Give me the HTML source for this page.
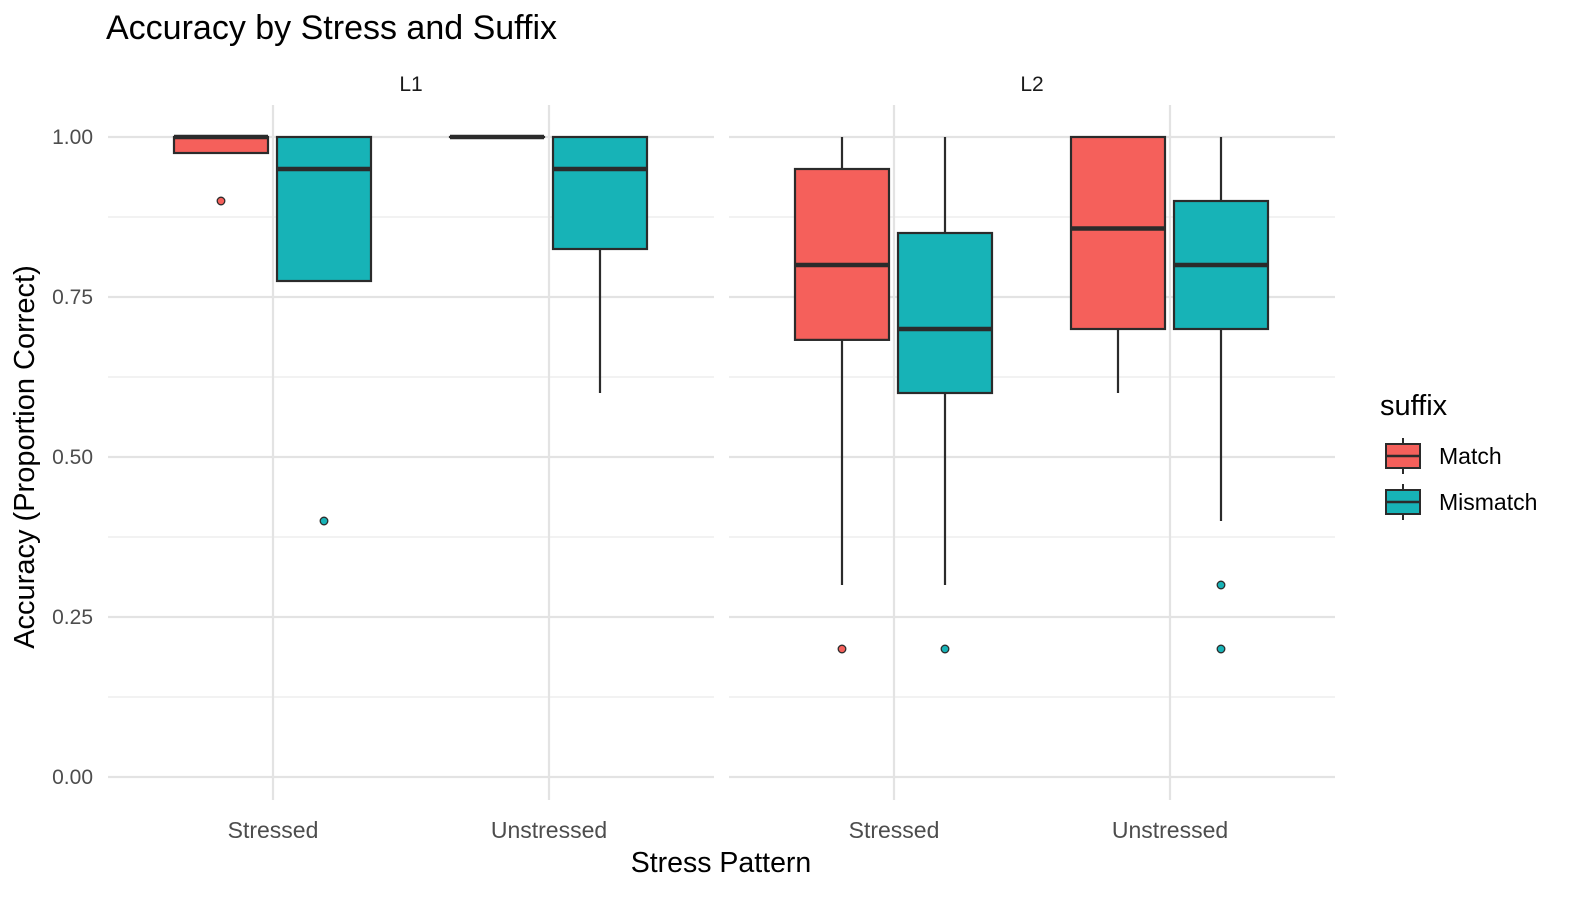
<!DOCTYPE html>
<html><head><meta charset="utf-8"><style>
body{margin:0;background:#fff;}
svg text{font-family:"Liberation Sans",Arial,sans-serif;}
</style></head><body>
<svg id="chart" width="1586" height="902" xmlns="http://www.w3.org/2000/svg">
<text x="106" y="39" font-size="34" fill="#000">Accuracy by Stress and Suffix</text>
<g id="panels"></g>
<text x="721" y="872" font-size="28.5" text-anchor="middle" fill="#000">Stress Pattern</text>
<text transform="translate(34,457) rotate(-90)" font-size="29" text-anchor="middle" fill="#000">Accuracy (Proportion Correct)</text>
<g>
<text x="1380" y="415" font-size="29" fill="#000">suffix</text>
<g>
<line x1="1403" y1="438" x2="1403" y2="474" stroke="#2b2b2b" stroke-width="2"/>
<rect x="1386" y="444" width="34" height="24" fill="#F5605B" stroke="#2b2b2b" stroke-width="2"/>
<line x1="1386" y1="456" x2="1420" y2="456" stroke="#2b2b2b" stroke-width="2.5"/>
<text x="1439" y="464" font-size="23" fill="#000">Match</text></g>
<g>
<line x1="1403" y1="484" x2="1403" y2="520" stroke="#2b2b2b" stroke-width="2"/>
<rect x="1386" y="490" width="34" height="24" fill="#17B3B7" stroke="#2b2b2b" stroke-width="2"/>
<line x1="1386" y1="502" x2="1420" y2="502" stroke="#2b2b2b" stroke-width="2.5"/>
<text x="1439" y="510" font-size="23" fill="#000">Mismatch</text></g>
</g>
</svg>
<script>
const panels=["L1","L2"];
const categories=["Stressed","Unstressed"];
const series=["Match","Mismatch"];
const yTicks=[0,0.25,0.5,0.75,1.0];
const yTickLabels=["0.00","0.25","0.50","0.75","1.00"];
// [category] = [lowWhisker, q1, median, q3, highWhisker]
const boxL1Match=[[1.0,0.975,1.0,1.0,1.0],[1.0,1.0,1.0,1.0,1.0]];
const boxL1Mismatch=[[0.775,0.775,0.95,1.0,1.0],[0.6,0.825,0.95,1.0,1.0]];
const boxL2Match=[[0.3,0.683,0.8,0.95,1.0],[0.6,0.7,0.857,1.0,1.0]];
const boxL2Mismatch=[[0.3,0.6,0.7,0.85,1.0],[0.4,0.7,0.8,0.9,1.0]];
const outL1Match=[[0.9],[]];
const outL1Mismatch=[[0.4],[]];
const outL2Match=[[0.2],[]];
const outL2Mismatch=[[0.2],[0.3,0.2]];
const boxes={L1:[boxL1Match,boxL1Mismatch],L2:[boxL2Match,boxL2Mismatch]};
const outs={L1:[outL1Match,outL1Mismatch],L2:[outL2Match,outL2Mismatch]};
const colors=["#F5605B","#17B3B7"];
const NS="http://www.w3.org/2000/svg";
const g=document.getElementById("panels");
const y=v=>777-640*v;
const panelX=[108,729],panelW=606;
function mk(t,a,p){const e=document.createElementNS(NS,t);for(const k in a)e.setAttribute(k,a[k]);(p||g).appendChild(e);return e;}
panels.forEach((p,pi)=>{
  const x0=panelX[pi];
  const xc=c=>x0+165+c*276;
  const pg=mk("g",{});
  
  
  for(let i=0;i<yTicks.length-1;i++){const v=(yTicks[i]+yTicks[i+1])/2;mk("line",{x1:x0,x2:x0+panelW,y1:y(v),y2:y(v),stroke:"#ebebeb","stroke-width":1.2},pg);}
  yTicks.forEach(v=>mk("line",{x1:x0,x2:x0+panelW,y1:y(v),y2:y(v),stroke:"#e3e3e3","stroke-width":2.2},pg));
  categories.forEach((c,ci)=>mk("line",{x1:xc(ci),x2:xc(ci),y1:105,y2:800,stroke:"#e3e3e3","stroke-width":2.2},pg));
  const st=mk("text",{x:x0+panelW/2,y:91,"font-size":21,"text-anchor":"middle",fill:"#1a1a1a"},pg);st.textContent=p;
  
  
  categories.forEach((c,ci)=>{const t=mk("text",{x:xc(ci),y:838,"font-size":23,"text-anchor":"middle",fill:"#4d4d4d"},pg);t.textContent=c;
    
    });
  if(pi==0) yTicks.forEach((v,i)=>{const t=mk("text",{x:93,y:y(v)+7,"font-size":21,"text-anchor":"end",fill:"#4d4d4d"},pg);t.textContent=yTickLabels[i];
    
    });
  categories.forEach((c,ci)=>series.forEach((s,si)=>{
    const b=boxes[p][si][ci];const cx=xc(ci)+(si==0?-52:51);const w=94;
    const bg=mk("g",{},pg);
    
    
    mk("line",{x1:cx,x2:cx,y1:y(b[4]),y2:y(b[0]),stroke:"#2b2b2b","stroke-width":2.2},bg);
    mk("rect",{x:cx-w/2,y:y(b[3]),width:w,height:Math.max(0.01,y(b[1])-y(b[3])),fill:colors[si],stroke:"#2b2b2b","stroke-width":2.2},bg);
    mk("line",{x1:cx-w/2,x2:cx+w/2,y1:y(b[2]),y2:y(b[2]),stroke:"#2b2b2b","stroke-width":4.5},bg);
    outs[p][si][ci].forEach(o=>{const d=mk("circle",{cx:cx,cy:y(o),r:3.8,fill:colors[si],stroke:"#2b2b2b","stroke-width":1.3},bg);
      
      });
  }));
});
</script>
</body></html>
